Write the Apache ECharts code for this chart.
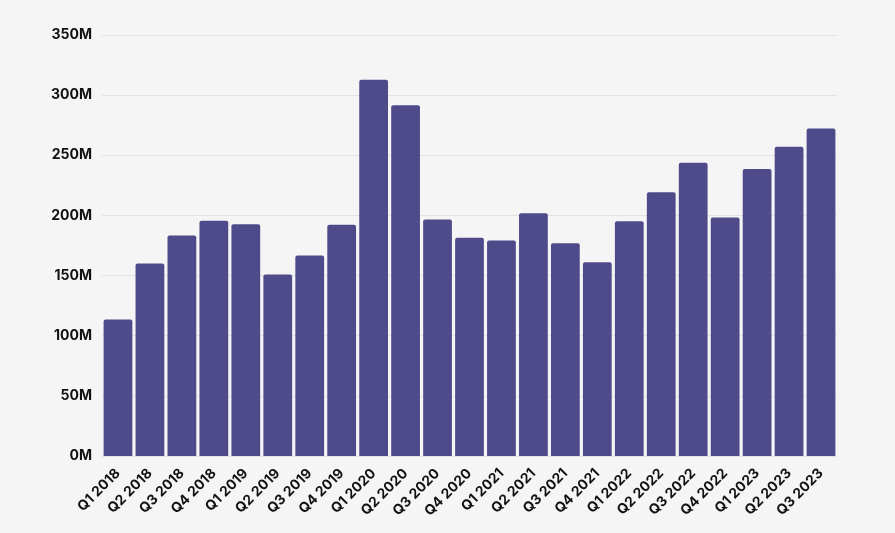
<!DOCTYPE html>
<html><head><meta charset="utf-8">
<script src="https://cdn.jsdelivr.net/npm/echarts@6/dist/echarts.min.js"></script>
<style>html,body{margin:0;padding:0;background:#f5f5f5;}#c{width:895px;height:533px;}</style>
</head><body><div id="c"></div>
<script>
const categories = ["Q1 2018","Q2 2018","Q3 2018","Q4 2018","Q1 2019","Q2 2019","Q3 2019","Q4 2019","Q1 2020","Q2 2020","Q3 2020","Q4 2020","Q1 2021","Q2 2021","Q3 2021","Q4 2021","Q1 2022","Q2 2022","Q3 2022","Q4 2022","Q1 2023","Q2 2023","Q3 2023"];
const values = [113.5,160,183.3,195.5,192.7,150.9,166.7,192.2,312.9,291.5,196.6,181.4,179.2,201.8,176.9,161.1,195.2,219.3,243.7,198.3,238.7,257.2,272.2];
const yMin = 0, yMax = 350, yStep = 50;
const chart = echarts.init(document.getElementById('c'));
chart.setOption({
  backgroundColor: '#f5f5f5',
  animation: false,
  grid: {left: 102, right: 58, top: 35, bottom: 77},
  xAxis: {
    type: 'category', data: categories,
    axisLine: {show: false}, axisTick: {show: false},
    axisLabel: {rotate: 45, interval: 0, color: '#111', fontFamily: 'Inter', fontWeight: 700, fontSize: 14, margin: 15}
  },
  yAxis: {
    type: 'value', min: yMin, max: yMax, interval: yStep,
    axisLine: {show: false}, axisTick: {show: false},
    splitLine: {lineStyle: {color: '#e2e2e2', width: 1}},
    axisLabel: {formatter: v => v + 'M', color: '#111', fontFamily: 'Inter', fontWeight: 700, fontSize: 14, margin: 10}
  },
  series: [{
    type: 'bar', data: values, barCategoryGap: '10%',
    itemStyle: {color: '#4f4a8a', borderRadius: [2,2,0,0]}
  }]
});
</script></body></html>
